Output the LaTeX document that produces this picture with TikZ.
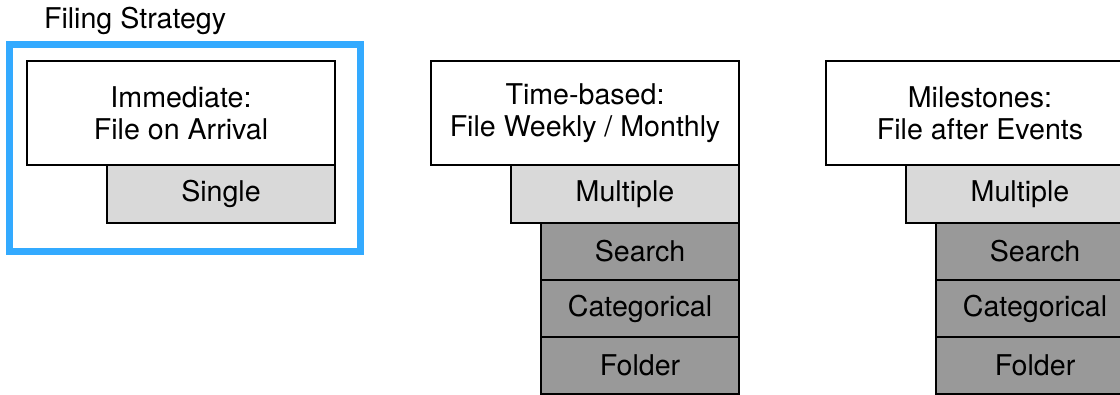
\documentclass[tikz,border=0pt]{standalone}
\usepackage{fontspec}
\setmainfont{TeX Gyre Heros}
\usetikzlibrary{positioning}
\definecolor{frameblue}{HTML}{33AAFF}
\definecolor{tierfill}{HTML}{D9D9D9}
\definecolor{subfill}{HTML}{999999}
\tikzset{
  cell/.style={rectangle, draw, line width=1pt, outer sep=0pt, inner sep=0pt, align=center, font=\fontsize{14.3}{16}\selectfont},
  head/.style={cell, fill=white, minimum width=154pt, minimum height=52pt, anchor=north west},
  tier/.style={cell, fill=tierfill, minimum width=114pt, minimum height=29pt},
  sub/.style={cell, fill=subfill, minimum width=99pt, minimum height=28.5pt},
  frame/.style={rectangle, draw=frameblue, line width=3.5pt, minimum width=175.5pt, minimum height=103.5pt},
  lbl/.style={font=\fontsize{14.3}{16}\selectfont}
}

\begin{document}
\begin{tikzpicture}[x=0.5pt, y=-0.5pt]
    \path[use as bounding box, clip] (0,0) rectangle (1120,395);

    % Immediate
    \node[frame] (imframe) at (184.5, 148.5) {};
    \node[lbl, anchor=base west] (title) at (37, 29) {Filing Strategy};
    \node[head] (imhead) at (27, 61) {Immediate:\\File on Arrival};
    \node[tier, below left=0pt of imhead.south east] (imsingle) {Single};

    % Time-based
    \node[head] (tbhead) at (431, 61) {Time-based:\\File Weekly / Monthly};
    \node[tier, below left=0pt of tbhead.south east] (tbmult) {Multiple};
    \node[sub, below left=0pt of tbmult.south east] (tbsearch) {Search};
    \node[sub, below=0pt of tbsearch] (tbcat) {Categorical};
    \node[sub, below=0pt of tbcat] (tbfolder) {Folder};

    % Milestones
    \node[head] (mshead) at (826, 61) {Milestones:\\File after Events};
    \node[tier, below left=0pt of mshead.south east] (msmult) {Multiple};
    \node[sub, below left=0pt of msmult.south east] (mssearch) {Search};
    \node[sub, below=0pt of mssearch] (mscat) {Categorical};
    \node[sub, below=0pt of mscat] (msfolder) {Folder};
\end{tikzpicture}
\end{document}
